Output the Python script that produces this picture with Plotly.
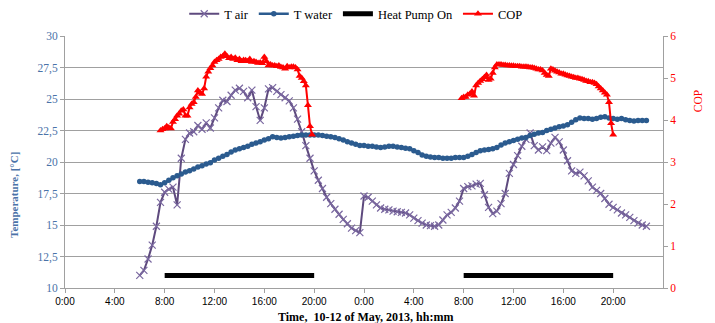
import plotly.graph_objects as go

# ---------------- data ----------------
# Temperatures sampled every 20 min starting at 6:00 on day 1 (hours since 0:00 on 10 May)
temp_start_h = 6.0
temp_step_h = 1 / 3
t_air = [11.0, 11.4, 12.3, 13.4, 14.9, 16.8, 17.6, 17.85, 18.0, 16.6,
         20.3, 21.8, 22.3, 22.4, 22.9, 22.6, 23.1, 22.7, 23.5, 24.3,
         24.9, 24.8, 25.3, 25.7, 25.85, 25.6, 25.1, 25.7, 24.4, 23.3,
         24.3, 25.8, 25.9, 25.6, 25.35, 25.1, 24.85, 24.3, 23.4, 22.4,
         21.3, 20.3, 19.3, 18.55, 17.9, 17.2, 16.7, 16.25, 15.85, 15.45,
         15.1, 14.75, 14.55, 14.4, 17.3, 17.2, 16.9, 16.6, 16.35, 16.25,
         16.2, 16.1, 16.05, 16.0, 15.95, 15.8, 15.55, 15.35, 15.15, 15.0,
         14.95, 14.9, 15.0, 15.4, 15.8, 16.0, 16.35, 16.9, 17.9, 18.05,
         18.1, 18.25, 18.3, 17.4, 16.4, 15.9, 16.1, 16.7, 17.5, 19.1,
         19.8, 20.5, 21.25, 21.8, 22.3, 21.3, 20.95, 21.2, 20.9, 21.5,
         21.95, 21.6, 20.95, 20.1, 19.3, 19.1, 19.2, 18.9, 18.5, 18.0,
         17.75, 17.5, 17.1, 16.65, 16.4, 16.2, 15.95, 15.8, 15.6, 15.35,
         15.15, 15.0, 14.9]
t_water = [18.45, 18.45, 18.4, 18.35, 18.3, 18.2, 18.35, 18.55, 18.75, 18.9,
           19.05, 19.2, 19.3, 19.45, 19.6, 19.7, 19.85, 19.95, 20.15, 20.3,
           20.45, 20.6, 20.8, 20.95, 21.05, 21.15, 21.25, 21.4, 21.5, 21.6,
           21.75, 21.85, 22.0, 21.95, 21.9, 21.95, 22.0, 22.05, 22.1, 22.15,
           22.15, 22.15, 22.15, 22.15, 22.1, 22.05, 22.0, 21.95, 21.85, 21.75,
           21.6, 21.5, 21.4, 21.3, 21.3, 21.25, 21.25, 21.2, 21.15, 21.2,
           21.25, 21.25, 21.2, 21.15, 21.1, 21.05, 20.9, 20.75, 20.55, 20.45,
           20.4, 20.35, 20.35, 20.3, 20.3, 20.3, 20.35, 20.35, 20.35, 20.45,
           20.6, 20.75, 20.9, 20.95, 21.0, 21.05, 21.15, 21.35, 21.5, 21.6,
           21.7, 21.8, 21.9, 21.95, 22.1, 22.2, 22.3, 22.35, 22.5, 22.6,
           22.7, 22.8, 22.85, 22.95, 23.15, 23.35, 23.5, 23.45, 23.45, 23.4,
           23.45, 23.55, 23.6, 23.5, 23.45, 23.4, 23.45, 23.35, 23.3, 23.25,
           23.3, 23.3, 23.3]

# COP sampled every 10 min
cop_step_h = 1 / 6
cop1_start_h = 7 + 40 / 60
cop1 = [3.75, 3.78, 3.8, 3.85, 3.82, 3.8, 3.95, 4.02, 4.1, 4.15,
        4.22, 4.25, 4.1, 4.1, 4.3, 4.38, 4.42, 4.55, 4.7, 4.65,
        4.62, 4.75, 5.03, 5.15, 5.23, 5.3, 5.38, 5.42, 5.45, 5.5,
        5.52, 5.58, 5.52, 5.47, 5.5, 5.45, 5.48, 5.42, 5.45, 5.4,
        5.43, 5.42, 5.4, 5.45, 5.38, 5.4, 5.38, 5.36, 5.37, 5.35,
        5.5, 5.4, 5.3, 5.32, 5.3, 5.3, 5.28, 5.3, 5.26, 5.25,
        5.22, 5.28, 5.25, 5.27, 5.27, 5.25, 5.2, 5.05, 5.0, 4.92,
        4.82, 4.35, 3.85, 3.65]
cop2_start_h = 24 + 7 + 50 / 60
cop2 = [4.52, 4.55, 4.55, 4.6, 4.62, 4.68, 4.58, 4.82, 4.88, 4.93,
        4.97, 5.02, 5.07, 4.95, 4.98, 5.12, 5.25, 5.32, 5.32, 5.32,
        5.31, 5.31, 5.3, 5.3, 5.29, 5.29, 5.28, 5.28, 5.28, 5.27,
        5.27, 5.27, 5.26, 5.25, 5.25, 5.24, 5.22, 5.2, 5.2, 5.18,
        5.12, 5.07, 5.05, 5.22, 5.2, 5.17, 5.15, 5.13, 5.1, 5.1,
        5.08, 5.06, 5.05, 5.03, 5.02, 5.0, 5.0, 4.98, 4.97, 4.95,
        4.93, 4.92, 4.9, 4.9, 4.88, 4.85, 4.8, 4.75, 4.7, 4.65,
        4.6, 4.42, 3.92, 3.65]

# Heat pump on periods (hours) and the level it is drawn at (°C axis)
hp_start = [8, 32]
hp_end = [20, 44]
hp_level = 11

x_tick_vals = [0, 4, 8, 12, 16, 20, 24, 28, 32, 36, 40, 44]
x_tick_text = ["0:00", "4:00", "8:00", "12:00", "16:00", "20:00",
               "0:00", "4:00", "8:00", "12:00", "16:00", "20:00"]
y_tick_vals = [10, 12.5, 15, 17.5, 20, 22.5, 25, 27.5, 30]
y_tick_text = ["10", "12,5", "15", "17,5", "20", "22,5", "25", "27,5", "30"]
y2_tick_vals = [0, 1, 2, 3, 4, 5, 6]

# ---------------- figure ----------------
temp_x = [temp_start_h + i * temp_step_h for i in range(len(t_air))]
water_x = [temp_start_h + i * temp_step_h for i in range(len(t_water))]
cop_x = [cop1_start_h + i * cop_step_h for i in range(len(cop1))] + [None] + \
        [cop2_start_h + i * cop_step_h for i in range(len(cop2))]
cop_y = cop1 + [None] + cop2
hp_x, hp_y = [], []
for s, e in zip(hp_start, hp_end):
    hp_x += [s, e, None]
    hp_y += [hp_level, hp_level, None]

SERIF = "Liberation Serif, Times New Roman, serif"
SANS = "Liberation Sans, Arial, sans-serif"
PURPLE = "#5E4A7E"
BLUE = "#2B5B8F"
RED = "#FF0000"
AXBLUE = "#4A72A8"
GRID = "#A0A0A0"

fig = go.Figure()
fig.add_trace(go.Scatter(
    x=temp_x, y=t_air, name="T air", mode="lines+markers",
    line=dict(color=PURPLE, width=2),
    marker=dict(symbol="x-thin", size=7, color=PURPLE,
                line=dict(color="#7A68A0", width=1.2))))
fig.add_trace(go.Scatter(
    x=water_x, y=t_water, name="T water", mode="lines+markers",
    line=dict(color=BLUE, width=2.5),
    marker=dict(symbol="circle", size=5.5, color=BLUE)))
fig.add_trace(go.Scatter(
    x=hp_x, y=hp_y, name="Heat Pump On", mode="lines",
    line=dict(color="black", width=5)))
fig.add_trace(go.Scatter(
    x=cop_x, y=cop_y, name="COP", mode="lines+markers", yaxis="y2",
    line=dict(color=RED, width=2),
    marker=dict(symbol="triangle-up", size=7, color=RED)))

# The page body has an 8 px margin, so the figure is sized and its margins
# offset so that the plot area lands where it sits in the reference.
fig.update_layout(
    width=707, height=315,
    margin=dict(l=57, r=52, t=28, b=35, autoexpand=False),
    paper_bgcolor="white", plot_bgcolor="white",
    font=dict(family=SERIF, size=11, color="black"),
    showlegend=True,
    legend=dict(orientation="h", x=0.487, xanchor="center", y=1.087, yanchor="middle",
                font=dict(family=SERIF, size=12.5, color="black"),
                itemwidth=30, tracegroupgap=0, bgcolor="rgba(0,0,0,0)"),
    xaxis=dict(range=[0, 48], tickvals=x_tick_vals, ticktext=x_tick_text,
               showgrid=False, zeroline=False, showline=True, linecolor=GRID,
               linewidth=1, ticks="outside", ticklen=4, tickcolor=GRID,
               automargin=False,
               tickfont=dict(family=SANS, size=10, color="black")),
    yaxis=dict(range=[10, 30], tickvals=y_tick_vals, ticktext=y_tick_text,
               showgrid=True, gridcolor=GRID, gridwidth=1, zeroline=False,
               showline=True, linecolor=GRID, linewidth=1, automargin=False,
               ticks="outside", ticklen=4, tickcolor=GRID,
               tickfont=dict(family=SERIF, size=11.5, color=AXBLUE)),
    yaxis2=dict(range=[0, 6], tickvals=y2_tick_vals, overlaying="y", side="right",
                showgrid=False, zeroline=False, showline=True, linecolor=GRID,
                linewidth=1, ticks="outside", ticklen=4, tickcolor=GRID,
                automargin=False,
                tickfont=dict(family=SERIF, size=11.5, color=RED)),
)

fig.add_annotation(text="<b>Time,  10-12 of May, 2013, hh:mm</b>", xref="paper", yref="paper",
                   x=0.503, y=-0.115, yanchor="middle", showarrow=False,
                   font=dict(family=SERIF, size=12, color="black"))
fig.add_annotation(text="<b>Temperature, [°C]</b>", xref="paper", yref="paper",
                   x=-0.085, xanchor="center", y=0.37, yanchor="middle", textangle=-90,
                   showarrow=False, font=dict(family=SERIF, size=11, color=AXBLUE))
fig.add_annotation(text="COP", xref="paper", yref="paper",
                   x=1.058, xanchor="center", y=0.74, yanchor="middle", textangle=-90,
                   showarrow=False, font=dict(family=SERIF, size=11.5, color=RED))

fig.write_html("out.html")
